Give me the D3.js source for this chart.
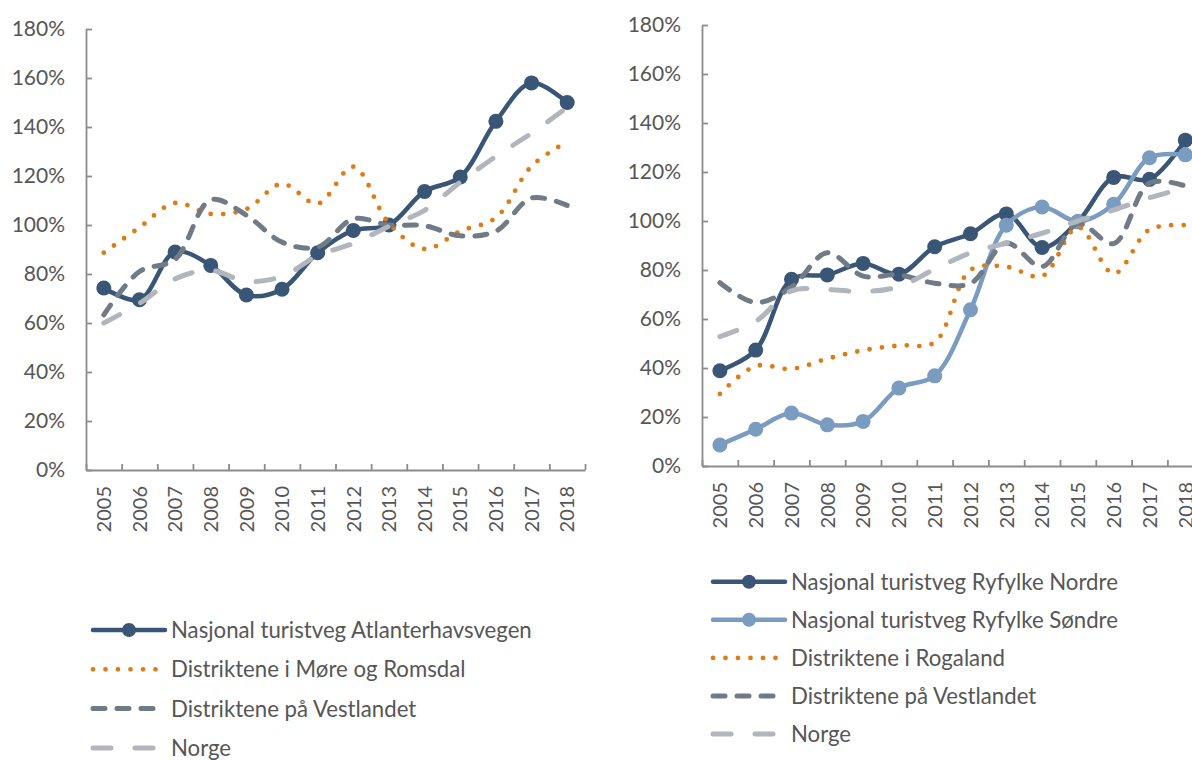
<!DOCTYPE html>
<html><head><meta charset="utf-8">
<script src="https://cdn.jsdelivr.net/npm/d3@7"></script>
<style>
body{margin:0;background:#fff}
text{font-family:Lato,"Open Sans",sans-serif;fill:#565656}
</style>
</head><body>
<svg id="c" width="1192" height="760"></svg>
<script>
const years = ["2005","2006","2007","2008","2009","2010","2011","2012","2013","2014","2015","2016","2017","2018"];
const yTicks = [0,20,40,60,80,100,120,140,160,180];

// Left chart
const atlanterhavsvegen = [74.3,69.5,89,83.5,71.4,73.8,88.7,97.8,100,113.7,119.6,142.3,158,150];
const moreRomsdal       = [88.7,99,109,104.5,106.5,116.8,108.7,123.8,100.7,90.2,97.5,103,124,134];
const vestlandetL       = [63.3,81,86,110.3,104,93,91,102.5,100,99.7,95.6,97.5,111,108];
const norgeL            = [60,68,78,81.5,77,79,87.5,92.5,99.5,106,117.5,128,137.5,148];

// Right chart
const ryfylkeNordre = [38.9,47.3,76.2,78,82.7,78.3,89.5,94.8,102.9,89.2,99.7,117.8,117,133];
const ryfylkeSondre = [8.6,15,21.6,16.8,18.2,31.8,36.8,63.8,98.3,105.7,99.8,106.8,125.8,127];
const rogaland      = [29.4,40.8,39.6,43.8,47.2,49.2,50.5,80,81.3,77.5,97.5,78.5,96.5,98.3];
const vestlandetR   = [74.8,66.7,73,87,77.5,78,74.6,74.5,91,81.4,99,90.8,115.5,114.3];
const norgeR        = [52.8,59,71.5,72,71.2,73.2,80.3,87,91,95,100,104.5,109.5,113.5];

const leftNames  = ["Nasjonal turistveg Atlanterhavsvegen","Distriktene i Møre og Romsdal","Distriktene på Vestlandet","Norge"];
const rightNames = ["Nasjonal turistveg Ryfylke Nordre","Nasjonal turistveg Ryfylke Søndre","Distriktene i Rogaland","Distriktene på Vestlandet","Norge"];

const styles = {
  navy:   {color:"#3a5676", width:4.5, dash:null, marker:true},
  lblue:  {color:"#7a9cc1", width:4.5, dash:null, marker:true},
  orange: {color:"#df7b14", width:4.8, dash:"0 12.5", marker:false},
  dgray:  {color:"#717b85", width:5, dash:"12 12", marker:false},
  lgray:  {color:"#b1b6bc", width:5, dash:"18 24", marker:false}
};

const svg = d3.select("#c");

function drawChart(cfg){
  const g = svg.append("g");
  const x = d3.scaleBand().domain(years).range([cfg.x0,cfg.x1]);
  const xl = d3.scaleLinear().domain([0,years.length]).range([cfg.x0,cfg.x1]);
  const y = d3.scaleLinear().domain([0,180]).range([cfg.yb,cfg.yt]);
  const bw = x.bandwidth();

  // y axis
  const ya = g.append("g").attr("transform",`translate(${cfg.x0},0)`)
    .call(d3.axisLeft(y).tickValues(yTicks).tickFormat(d=>d+"%").tickSizeInner(-6).tickSizeOuter(0).tickPadding(21));
  ya.select(".domain").attr("stroke","#8c8c8c").attr("stroke-width",1.8);
  ya.selectAll(".tick line").attr("stroke","#8c8c8c").attr("stroke-width",1.8);
  ya.selectAll("text").style("font-size","21px").attr("fill","#565656");

  // x axis ticks at band boundaries
  const xt = g.append("g").attr("transform",`translate(0,${cfg.yb})`)
    .call(d3.axisBottom(xl).tickValues(d3.range(0,years.length+1)).tickFormat("").tickSizeInner(-6).tickSizeOuter(0));
  xt.select(".domain").attr("stroke","#8c8c8c").attr("stroke-width",1.8);
  xt.selectAll(".tick line").attr("stroke","#8c8c8c").attr("stroke-width",1.8);

  // x labels
  const xa = g.append("g").attr("transform",`translate(0,${cfg.yb})`)
    .call(d3.axisBottom(x).tickSize(0));
  xa.select(".domain").remove();
  xa.selectAll("text").attr("transform","rotate(-90)").attr("text-anchor","end")
    .attr("x",-16).attr("y",0).attr("dy","0.36em").style("font-size","20px").attr("fill","#565656");

  // series
  const line = d3.line().x((d,i)=>x(years[i])+bw/2).y(d=>y(d)).curve(d3.curveCatmullRom.alpha(0.5));
  cfg.series.forEach(s=>{
    const st = styles[s.style];
    const p = g.append("path").datum(s.values).attr("d",line).attr("fill","none")
      .attr("stroke",st.color).attr("stroke-width",st.width).attr("stroke-linecap","round").attr("stroke-linejoin","round");
    if(st.dash) p.attr("stroke-dasharray",st.dash);
    if(st.marker){
      g.selectAll(null).data(s.values).enter().append("circle")
        .attr("cx",(d,i)=>x(years[i])+bw/2).attr("cy",d=>y(d)).attr("r",7.5).attr("fill",st.color);
    }
  });

  // legend
  const lg = g.append("g");
  cfg.series.forEach((s,i)=>{
    const st = styles[s.style];
    const yy = cfg.legY + i*cfg.legStep;
    const row = lg.append("g").attr("transform",`translate(${cfg.legX},${yy})`);
    const lp = row.append("path").attr("d",d3.line()([[0,0],[72,0]])).attr("fill","none")
      .attr("stroke",st.color).attr("stroke-width",st.width).attr("stroke-linecap","round");
    if(st.dash) lp.attr("stroke-dasharray",st.dash);
    if(st.marker) row.append("circle").attr("cx",36).attr("cy",0).attr("r",7).attr("fill",st.color);
    row.append("text").attr("x",78).attr("y",0).attr("dy","0.36em").style("font-size","22.2px").text(s.name);
  });
}

drawChart({
  x0:86, x1:585, yb:470, yt:29,
  legX:93, legY:630, legStep:39.3,
  series:[
    {name:leftNames[0], values:atlanterhavsvegen, style:"navy"},
    {name:leftNames[1], values:moreRomsdal, style:"orange"},
    {name:leftNames[2], values:vestlandetL, style:"dgray"},
    {name:leftNames[3], values:norgeL, style:"lgray"}
  ]
});
drawChart({
  x0:702, x1:1203.2, yb:466, yt:25,
  legX:713, legY:581.7, legStep:38.1,
  series:[
    {name:rightNames[0], values:ryfylkeNordre, style:"navy"},
    {name:rightNames[1], values:ryfylkeSondre, style:"lblue"},
    {name:rightNames[2], values:rogaland, style:"orange"},
    {name:rightNames[3], values:vestlandetR, style:"dgray"},
    {name:rightNames[4], values:norgeR, style:"lgray"}
  ]
});
</script>
</body></html>
